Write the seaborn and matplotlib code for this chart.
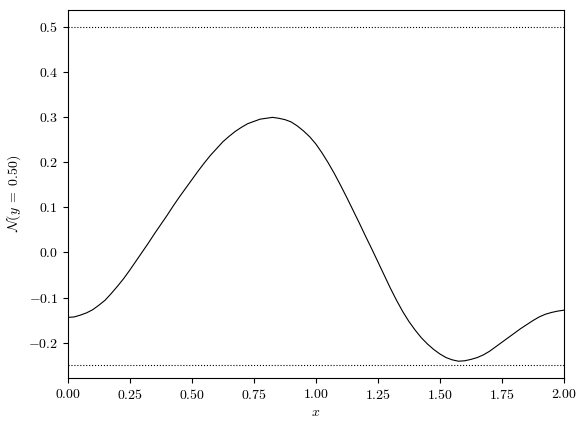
import matplotlib
matplotlib.use('Agg')
import matplotlib.pyplot as plt
import seaborn as sns
import pandas as pd

# values at x step 0.025
x_vals = [0.000, 0.025, 0.050, 0.075, 0.100, 0.125, 0.150, 0.175, 0.200, 0.225,
          0.250, 0.275, 0.300, 0.325, 0.350, 0.375, 0.400, 0.425, 0.450, 0.475,
          0.500, 0.525, 0.550, 0.575, 0.600, 0.625, 0.650, 0.675, 0.700, 0.725,
          0.750, 0.775, 0.800, 0.825, 0.850, 0.875, 0.900, 0.925, 0.950, 0.975,
          1.000, 1.025, 1.050, 1.075, 1.100, 1.125, 1.150, 1.175, 1.200, 1.225,
          1.250, 1.275, 1.300, 1.325, 1.350, 1.375, 1.400, 1.425, 1.450, 1.475,
          1.500, 1.525, 1.550, 1.575, 1.600, 1.625, 1.650, 1.675, 1.700, 1.725,
          1.750, 1.775, 1.800, 1.825, 1.850, 1.875, 1.900, 1.925, 1.950, 1.975,
          2.000]
n_vals = [-0.144, -0.143, -0.139, -0.134, -0.127, -0.117, -0.106, -0.091, -0.075, -0.058,
          -0.039, -0.019, 0.001, 0.021, 0.042, 0.062, 0.082, 0.103, 0.123, 0.142,
          0.161, 0.180, 0.198, 0.215, 0.230, 0.245, 0.257, 0.268, 0.277, 0.285,
          0.290, 0.295, 0.297, 0.299, 0.297, 0.294, 0.289, 0.280, 0.269, 0.256,
          0.240, 0.220, 0.198, 0.174, 0.148, 0.121, 0.093, 0.065, 0.036, 0.008,
          -0.021, -0.050, -0.079, -0.106, -0.131, -0.153, -0.172, -0.189, -0.203, -0.215,
          -0.225, -0.233, -0.238, -0.241, -0.240, -0.237, -0.233, -0.227, -0.219, -0.209,
          -0.199, -0.189, -0.179, -0.169, -0.160, -0.151, -0.143, -0.137, -0.133, -0.130,
          -0.128]
ref_lines = [0.5, -0.25]

plt.rcParams['font.family'] = 'serif'
plt.rcParams['font.serif'] = ['cmr10']
plt.rcParams['mathtext.fontset'] = 'cm'
plt.rcParams['axes.formatter.use_mathtext'] = True
plt.rcParams['font.size'] = 10

df = pd.DataFrame({'x': x_vals, 'N': n_vals})

fig, ax = plt.subplots(figsize=(5.85, 4.29), dpi=100)
fig.subplots_adjust(left=0.116, right=0.964, top=0.977, bottom=0.119)

sns.lineplot(data=df, x='x', y='N', color='black', linewidth=0.8, ax=ax)
for v in ref_lines:
    ax.axhline(v, color='black', linestyle=':', linewidth=0.8)

ax.set_xlim(0, 2)
ax.set_xlabel(r'$x$')
ax.set_ylabel(r'$\mathcal{N}(y\;=\;0.50)$')

plt.savefig('out.png', dpi=100)
